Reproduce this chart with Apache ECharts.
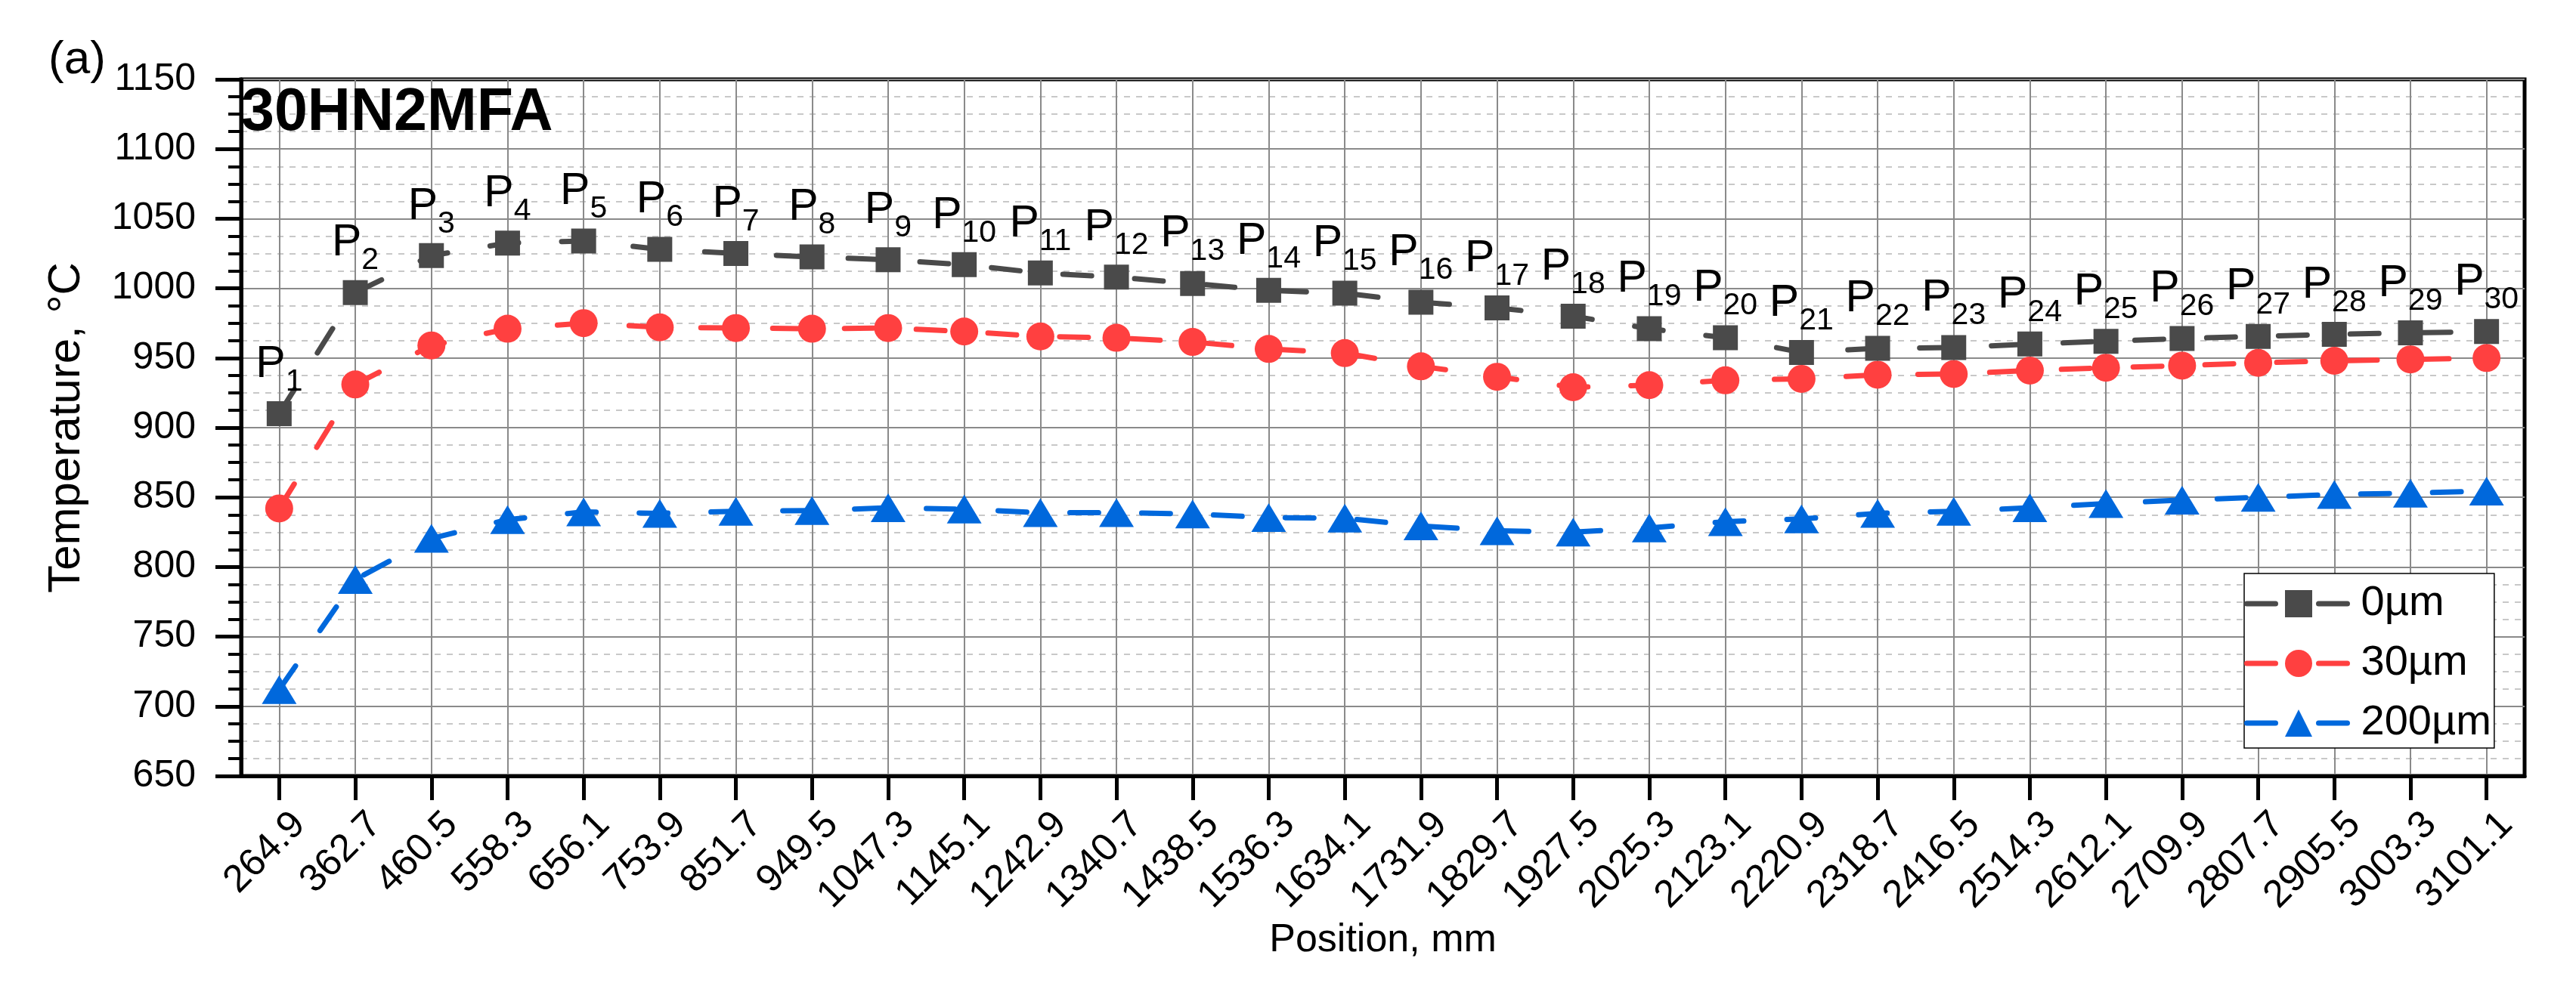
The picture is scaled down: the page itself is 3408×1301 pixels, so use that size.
<!DOCTYPE html>
<html><head><meta charset="utf-8">
<script src="https://cdn.jsdelivr.net/npm/echarts@6/dist/echarts.min.js"></script>
<style>html,body{margin:0;padding:0;background:#fff}#chart{width:3408px;height:1301px}</style>
</head><body><div id="chart"></div>
<script>
// ---- data ----
const positions = ['264.9','362.7','460.5','558.3','656.1','753.9','851.7','949.5','1047.3','1145.1',
  '1242.9','1340.7','1438.5','1536.3','1634.1','1731.9','1829.7','1927.5','2025.3','2123.1',
  '2220.9','2318.7','2416.5','2514.3','2612.1','2709.9','2807.7','2905.5','3003.3','3101.1'];
const pointNumbers = ['1','2','3','4','5','6','7','8','9','10','11','12','13','14','15',
  '16','17','18','19','20','21','22','23','24','25','26','27','28','29','30'];
const temp0 = [910, 997, 1023.5, 1032.5, 1034, 1028, 1025, 1022.5, 1020.5, 1017,
  1011, 1008, 1003.5, 998.5, 996.5, 990, 986, 980, 971, 964.5,
  954, 957, 957.5, 960, 962, 964, 965.5, 967, 968, 969];
const temp30 = [842, 931, 959, 971, 975, 972, 971.5, 971, 971.5, 969,
  965.5, 964.5, 961.5, 956.5, 953.5, 944, 936.5, 929, 930.5, 934,
  935, 938, 938.5, 941, 943, 944.5, 946.5, 948, 949, 950];
const temp200 = [712, 791, 820.5, 834, 839.5, 838.5, 840, 840.5, 842.5, 841.5,
  839, 839, 838, 835.5, 835, 829.5, 826, 825, 828, 832.5,
  834.5, 838.5, 840, 842.5, 845.5, 848, 850, 852, 853, 854.5];
const seriesNames = ['0µm', '30µm', '200µm'];
const yMin = 650, yMax = 1150, yStep = 50;
const panelTag = '(a)';
const materialName = '30HN2MFA';
const xTitle = 'Position, mm';
const yTitle = 'Temperature, °C';

// ---- chart ----
const FONT = '"Liberation Sans", Arial, sans-serif';
const DASH = [38, 57];
const chart = echarts.init(document.getElementById('chart'), null, {renderer: 'canvas'});

function mkSeries(name, data, color, symbol, size, extra) {
  return Object.assign({
    name: name, type: 'line', data: data,
    symbol: symbol, symbolSize: size, showAllSymbol: true,
    lineStyle: {color: color, width: 7, type: DASH, cap: 'round'},
    itemStyle: {color: color},
    emphasis: {disabled: true},
    animation: false
  }, extra || {});
}

const option = {
  backgroundColor: '#fff',
  textStyle: {fontFamily: FONT},
  animation: false,
  grid: {left: 319, right: 68, top: 105, bottom: 274, show: true,
    borderColor: '#000', borderWidth: 5, outerBoundsMode: 'none', containLabel: false},
  legend: {
    left: 2969, top: 759, orient: 'vertical',
    itemWidth: 137, itemHeight: 45, itemGap: 23,
    padding: [12, 4, 5, 0],
    borderColor: '#000', borderWidth: 1.5, backgroundColor: '#fff',
    lineStyle: {width: 7, type: DASH, cap: 'round'},
    textStyle: {fontSize: 56, color: '#000', fontFamily: FONT, padding: [0, 0, 0, 9]},
    data: seriesNames
  },
  xAxis: {
    type: 'category', data: positions, boundaryGap: true,
    name: xTitle, nameLocation: 'middle', nameGap: 208,
    nameTextStyle: {fontSize: 52, color: '#000', fontFamily: FONT, verticalAlign: 'middle'},
    axisLine: {lineStyle: {color: '#000', width: 5}},
    axisTick: {show: true, alignWithLabel: true, interval: 0, length: 32, lineStyle: {color: '#000', width: 5}},
    axisLabel: {interval: 0, rotate: 45, fontSize: 51, color: '#000', fontFamily: FONT,
      margin: 30, verticalAlign: 'top', padding: [12, 0, 0, 0]},
    splitLine: {show: true, interval: 0, alignWithLabel: true, lineStyle: {color: '#8a8a8a', width: 2}}
  },
  yAxis: {
    type: 'value', min: yMin, max: yMax, interval: yStep,
    name: yTitle, nameLocation: 'middle', nameGap: 231,
    nameTextStyle: {fontSize: 60, color: '#000', fontFamily: FONT, verticalAlign: 'middle'},
    axisLine: {show: true, lineStyle: {color: '#000', width: 5}},
    axisTick: {show: true, length: 34, lineStyle: {color: '#000', width: 5}},
    minorTick: {show: true, splitNumber: 4, length: 17, lineStyle: {color: '#000', width: 4}},
    axisLabel: {fontSize: 50, color: '#000', fontFamily: FONT, margin: 60,
      formatter: function (v) { return String(v); }},
    splitLine: {show: true, lineStyle: {color: '#8a8a8a', width: 2}},
    minorSplitLine: {show: true, lineStyle: {color: '#c8c8c8', width: 2, type: [8, 8]}}
  },
  graphic: [
    {type: 'text', x: 64, y: 80, z: 100,
      style: {text: panelTag, font: '62px ' + FONT, fill: '#000', align: 'left', verticalAlign: 'middle'}},
    {type: 'text', x: 319, y: 150, z: 100,
      style: {text: materialName, font: 'bold 79px ' + FONT, fill: '#000', align: 'left', verticalAlign: 'middle'}}
  ],
  series: [
    mkSeries(seriesNames[0], temp0, '#4a4a4a', 'rect', 33, {
      z: 4,
      label: {
        show: true, position: 'top', distance: 5,
        formatter: function (p) { return '{p|P}{s|' + pointNumbers[p.dataIndex] + '}'; },
        rich: {
          p: {fontSize: 59, lineHeight: 59, fontFamily: FONT, color: '#000', verticalAlign: 'bottom', padding: [0, 0, 14, 0]},
          s: {fontSize: 41, lineHeight: 41, fontFamily: FONT, color: '#000', verticalAlign: 'bottom'}
        }
      }
    }),
    mkSeries(seriesNames[1], temp30, '#ff4040', 'circle', 37, {z: 3}),
    mkSeries(seriesNames[2], temp200, '#0068dc', 'triangle', [46, 38], {z: 2})
  ]
};
chart.setOption(option);
</script>
</body></html>
